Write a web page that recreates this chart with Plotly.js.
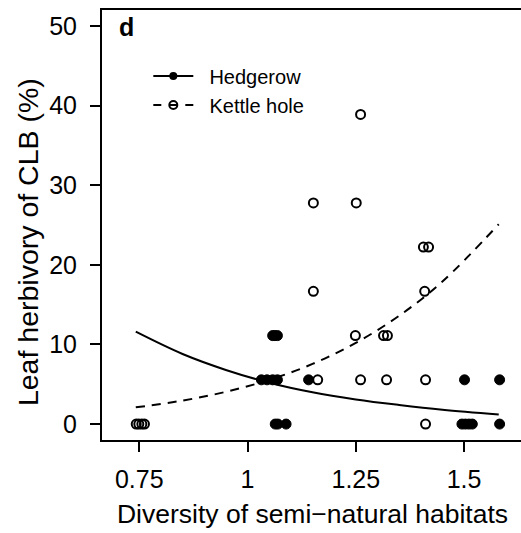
<!DOCTYPE html>
<html>
<head>
<meta charset="utf-8">
<script src="https://cdn.plot.ly/plotly-3.0.1.min.js"></script>
<style>
  html, body { margin: 0; padding: 0; background: #fff; overflow: hidden; }
  #chart { width: 530px; height: 533px; }
</style>
</head>
<body>
<div id="chart"></div>
<script>
// Leaf herbivory of CLB versus diversity of semi-natural habitats
var hedgerowX = [1.058, 1.063, 1.069,
                 1.032, 1.045, 1.058, 1.069, 1.141, 1.501, 1.582,
                 1.064, 1.070, 1.089, 1.495, 1.503, 1.511, 1.519, 1.582];
var hedgerowY = [11.111, 11.111, 11.111,
                 5.556, 5.556, 5.556, 5.556, 5.556, 5.556, 5.556,
                 0, 0, 0, 0, 0, 0, 0, 0];

var kettleX = [0.743, 0.749, 0.756, 0.762, 1.411,
               1.162, 1.261, 1.321, 1.411,
               1.249, 1.314, 1.323,
               1.152, 1.409,
               1.406, 1.418,
               1.152, 1.251,
               1.261];
var kettleY = [0, 0, 0, 0, 0,
               5.556, 5.556, 5.556, 5.556,
               11.111, 11.111, 11.111,
               16.667, 16.667,
               22.222, 22.222,
               27.778, 27.778,
               38.889];

// fitted curves
var fitX        = [0.742, 0.85, 0.95, 1.05, 1.15, 1.25, 1.35, 1.45, 1.58];
var fitHedgerow = [11.6, 8.8, 6.8, 5.2, 4.0, 3.1, 2.4, 1.8, 1.2];
var fitKettle   = [2.1, 2.95, 4.05, 5.55, 7.55, 10.2, 13.6, 17.9, 25.1];

var xTickVals = [0.75, 1, 1.25, 1.5];
var xTickText = ['0.75', '1', '1.25', '1.5'];
var yTickVals = [0, 10, 20, 30, 40, 50];

var FONT = 'Liberation Sans, Arial, Helvetica, sans-serif';
var NB = '\u00a0\u00a0';

var traces = [
  { x: fitX, y: fitHedgerow, mode: 'lines', showlegend: false, hoverinfo: 'skip',
    line: { color: '#000', width: 2, shape: 'spline' } },
  { x: fitX, y: fitKettle, mode: 'lines', showlegend: false, hoverinfo: 'skip',
    line: { color: '#000', width: 2, dash: '9px,7px', shape: 'spline' } },
  { x: kettleX, y: kettleY, mode: 'markers', showlegend: false,
    marker: { symbol: 'circle-open', size: 9, color: '#000', line: { width: 2, color: '#000' } } },
  { x: hedgerowX, y: hedgerowY, mode: 'markers', showlegend: false,
    marker: { symbol: 'circle', size: 10, color: '#000', line: { width: 1, color: '#000' } } },
  // legend entries
  { x: [null], y: [null], mode: 'lines+markers', name: NB + 'Hedgerow',
    line: { color: '#000', width: 2 },
    marker: { symbol: 'circle', size: 8, color: '#000' } },
  { x: [null], y: [null], mode: 'lines+markers', name: NB + 'Kettle hole',
    line: { color: '#000', width: 2, dash: '8px,8px' },
    marker: { symbol: 'circle-open', size: 8, color: '#000', line: { width: 2 } } }
];

var layout = {
  width: 530, height: 533,
  margin: { l: 102, r: 7, t: 10, b: 93 },
  paper_bgcolor: '#fff', plot_bgcolor: '#fff',
  font: { family: FONT, color: '#000', size: 25 },
  showlegend: true,
  legend: {
    x: 0.11, y: 0.892, xanchor: 'left', yanchor: 'top',
    bgcolor: 'rgba(0,0,0,0)', borderwidth: 0,
    font: { family: FONT, size: 20, color: '#000' },
    itemwidth: 40, tracegroupgap: 0
  },
  xaxis: {
    range: [0.664, 1.636], autorange: false,
    showgrid: false, zeroline: false,
    showline: true, mirror: true, linecolor: '#000', linewidth: 2,
    ticks: 'outside', ticklen: 10, tickwidth: 2, tickcolor: '#000',
    tickvals: xTickVals, ticktext: xTickText,
    tickfont: { family: FONT, size: 25 },
    ticklabelstandoff: 6,
    title: { text: 'Diversity of semi\u2212natural habitats', font: { family: FONT, size: 26.5 }, standoff: 12 }
  },
  yaxis: {
    range: [-2, 52], autorange: false,
    showgrid: false, zeroline: false,
    showline: true, mirror: true, linecolor: '#000', linewidth: 2,
    ticks: 'outside', ticklen: 10, tickwidth: 2, tickcolor: '#000',
    tickvals: yTickVals,
    tickfont: { family: FONT, size: 25 },
    ticklabelstandoff: 8
  },
  annotations: [
    { text: '<b>d</b>', xref: 'paper', yref: 'paper', x: 0.036, y: 0.997,
      xanchor: 'left', yanchor: 'top', showarrow: false,
      font: { family: FONT, size: 25, color: '#000' } },
    // y-axis title
    { text: 'Leaf herbivory of CLB (%)', xref: 'paper', yref: 'paper',
      x: -0.176, y: 0.46, xanchor: 'center', yanchor: 'middle',
      textangle: -90, showarrow: false,
      font: { family: FONT, size: 28.5, color: '#000' } }
  ]
};

Plotly.newPlot('chart', traces, layout, { displayModeBar: false, staticPlot: true });
</script>
</body>
</html>
